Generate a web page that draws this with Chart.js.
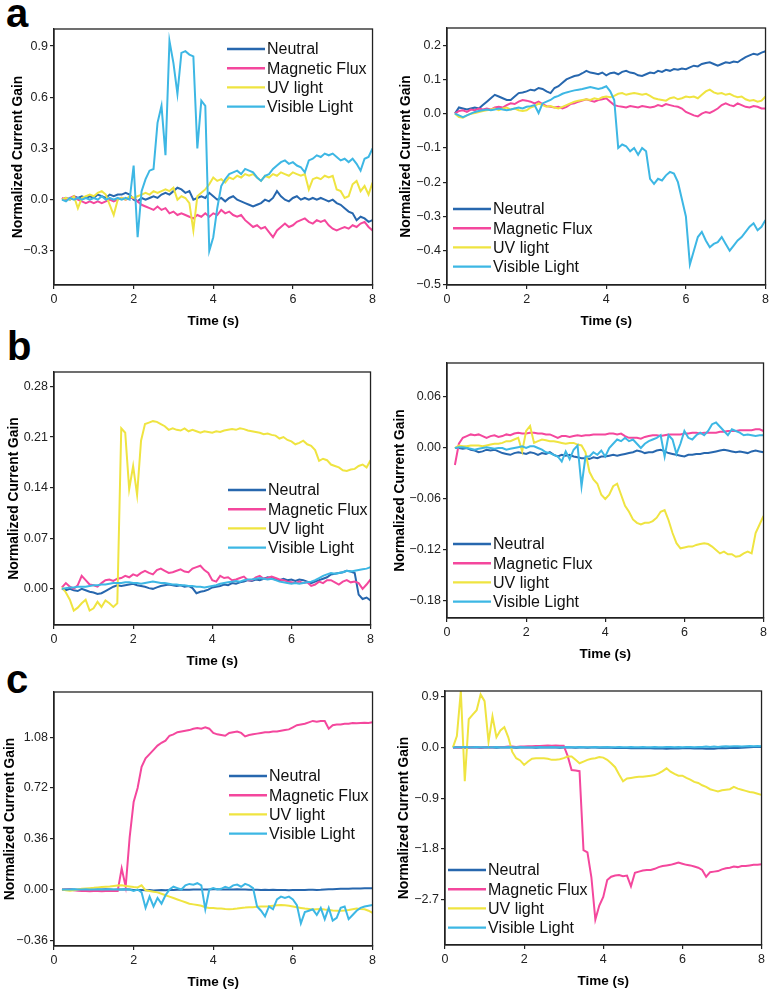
<!DOCTYPE html>
<html>
<head>
<meta charset="utf-8">
<script src="https://cdn.jsdelivr.net/npm/chart.js@4.4.0/dist/chart.umd.min.js"></script>
<style>
html, body { margin: 0; padding: 0; background: #fff; overflow: hidden; }
body { width: 772px; height: 992px; position: relative; font-family: "Liberation Sans", Arial, sans-serif; }
canvas { position: absolute; }
.tag { position: absolute; font-size: 40px; font-weight: bold; line-height: 40px; color: #000; }
</style>
</head>
<body>
<div class="tag" style="left:6px;top:-7px">a</div>
<div class="tag" style="left:7px;top:326px">b</div>
<div class="tag" style="left:6px;top:659px">c</div>
<canvas id="a1"></canvas>
<canvas id="a2"></canvas>
<canvas id="b1"></canvas>
<canvas id="b2"></canvas>
<canvas id="c1"></canvas>
<canvas id="c2"></canvas>
<script>
//shared data//////////////////////////////////////////////////////////////////////////////
var seriesNames = ['Neutral', 'Magnetic Flux', 'UV light', 'Visible Light'];
var seriesColors = ['#2767ae', '#f4479d', '#efe441', '#3db7e4'];
var xTicks = [0, 2, 4, 6, 8];
var time = [
	0.2, 0.3, 0.4, 0.5, 0.6, 0.7, 0.8, 0.9, 1.0, 1.1,
	1.2, 1.3, 1.4, 1.5, 1.6, 1.7, 1.8, 1.9, 2.0, 2.1,
	2.2, 2.3, 2.4, 2.5, 2.6, 2.7, 2.8, 2.9, 3.0, 3.1,
	3.2, 3.3, 3.4, 3.5, 3.6, 3.7, 3.8, 3.9, 4.0, 4.1,
	4.2, 4.3, 4.4, 4.5, 4.6, 4.7, 4.8, 4.9, 5.0, 5.1,
	5.2, 5.3, 5.4, 5.5, 5.6, 5.7, 5.8, 5.9, 6.0, 6.1,
	6.2, 6.3, 6.4, 6.5, 6.6, 6.7, 6.8, 6.9, 7.0, 7.1,
	7.2, 7.3, 7.4, 7.5, 7.6, 7.7, 7.8, 7.9, 8.0
];

//panel a left
var a1YTicks = [-0.3, 0, 0.3, 0.6, 0.9];
var a1Neutral = [
	0.00, 0.01, 0.00, 0.02, 0.01, 0.02, 0.01, 0.02, 0.01, 0.03,
	0.02, 0.01, 0.03, 0.02, 0.03, 0.03, 0.04, 0.03, 0.00, -0.01,
	0.01, 0.00, 0.01, 0.02, 0.01, 0.03, 0.04, 0.03, 0.05, 0.07,
	0.06, 0.04, 0.05, 0.00, 0.01, 0.02, 0.01, 0.04, 0.02, 0.00,
	0.01, -0.01, 0.01, 0.02, 0.00, -0.01, -0.02, -0.03, -0.04, -0.03,
	-0.02, 0.00, -0.01, 0.01, 0.05, 0.02, 0.00, -0.01, 0.01, 0.02,
	0.00, 0.01, 0.00, 0.01, 0.00, 0.01, 0.00, -0.01, 0.00, -0.02,
	-0.03, -0.05, -0.07, -0.08, -0.12, -0.10, -0.11, -0.13, -0.12
];
var a1Magnetic = [
	0.01, 0.00, 0.01, 0.02, 0.00, -0.01, -0.02, -0.01, -0.02, -0.01,
	-0.02, -0.01, 0.00, -0.01, 0.00, 0.01, 0.00, 0.01, 0.01, -0.01,
	-0.03, -0.04, -0.05, -0.06, -0.04, -0.06, -0.05, -0.08, -0.07, -0.09,
	-0.08, -0.09, -0.10, -0.11, -0.09, -0.10, -0.08, -0.10, -0.08, -0.09,
	-0.06, -0.08, -0.07, -0.09, -0.10, -0.09, -0.12, -0.14, -0.16, -0.15,
	-0.17, -0.16, -0.19, -0.22, -0.18, -0.16, -0.14, -0.16, -0.15, -0.13,
	-0.12, -0.11, -0.13, -0.14, -0.12, -0.13, -0.12, -0.15, -0.17, -0.18,
	-0.17, -0.16, -0.17, -0.15, -0.16, -0.14, -0.13, -0.16, -0.18
];
var a1Uv = [
	0.00, 0.01, 0.00, 0.02, -0.05, 0.01, 0.02, 0.03, 0.02, 0.04,
	0.05, 0.03, -0.03, -0.09, 0.00, 0.01, 0.00, 0.02, 0.01, 0.02,
	0.03, 0.04, 0.03, 0.05, 0.04, 0.05, 0.06, 0.05, 0.07, 0.00,
	0.02, 0.01, -0.02, -0.18, 0.02, 0.04, 0.06, 0.09, 0.13, 0.11,
	0.12, 0.10, 0.13, 0.12, 0.14, 0.13, 0.15, 0.14, 0.15, 0.13,
	0.11, 0.14, 0.13, 0.15, 0.14, 0.16, 0.15, 0.14, 0.16, 0.15,
	0.14, 0.15, 0.06, 0.12, 0.13, 0.12, 0.14, 0.13, 0.14, 0.06,
	0.05, 0.01, 0.02, 0.09, 0.11, 0.05, 0.08, 0.03, 0.10
];
var a1Visible = [
	0.00, -0.01, 0.01, 0.00, 0.01, 0.00, 0.01, 0.00, 0.01, 0.00,
	0.02, 0.00, 0.01, 0.00, 0.01, 0.00, 0.01, 0.00, 0.20, -0.22,
	0.05, 0.12, 0.17, 0.18, 0.45, 0.55, 0.26, 0.93, 0.80, 0.62,
	0.86, 0.87, 0.85, 0.84, 0.30, 0.58, 0.55, -0.30, -0.22, -0.05,
	0.08, 0.12, 0.15, 0.16, 0.17, 0.15, 0.18, 0.17, 0.16, 0.13,
	0.11, 0.14, 0.15, 0.18, 0.20, 0.22, 0.23, 0.21, 0.22, 0.20,
	0.19, 0.16, 0.23, 0.24, 0.26, 0.25, 0.27, 0.26, 0.27, 0.25,
	0.23, 0.24, 0.22, 0.24, 0.21, 0.17, 0.24, 0.25, 0.30
];

//panel a right
var a2YTicks = [-0.5, -0.4, -0.3, -0.2, -0.1, 0, 0.1, 0.2];
var a2Neutral = [
	0.000, 0.018, 0.015, 0.012, 0.015, 0.018, 0.015, 0.025, 0.035, 0.045,
	0.055, 0.050, 0.045, 0.040, 0.040, 0.050, 0.060, 0.062, 0.065, 0.070,
	0.068, 0.075, 0.072, 0.065, 0.060, 0.075, 0.080, 0.090, 0.100, 0.105,
	0.110, 0.112, 0.118, 0.125, 0.120, 0.118, 0.115, 0.120, 0.112, 0.118,
	0.120, 0.115, 0.122, 0.125, 0.120, 0.118, 0.112, 0.110, 0.115, 0.120,
	0.118, 0.125, 0.122, 0.128, 0.125, 0.130, 0.128, 0.132, 0.130, 0.135,
	0.140, 0.138, 0.145, 0.148, 0.150, 0.145, 0.140, 0.145, 0.150, 0.148,
	0.152, 0.150, 0.158, 0.165, 0.170, 0.175, 0.172, 0.178, 0.182
];
var a2Magnetic = [
	0.000, 0.008, 0.010, 0.005, 0.012, 0.010, 0.015, 0.012, 0.015, 0.012,
	0.018, 0.020, 0.018, 0.025, 0.030, 0.028, 0.035, 0.040, 0.038, 0.035,
	0.030, 0.035, 0.028, 0.022, 0.020, 0.018, 0.020, 0.015, 0.020, 0.028,
	0.030, 0.035, 0.038, 0.042, 0.038, 0.035, 0.040, 0.042, 0.045, 0.035,
	0.025, 0.022, 0.020, 0.018, 0.022, 0.020, 0.018, 0.022, 0.020, 0.018,
	0.020, 0.025, 0.022, 0.028, 0.025, 0.022, 0.020, 0.015, 0.005, 0.000,
	-0.005, -0.008, 0.000, 0.005, 0.002, 0.008, 0.015, 0.025, 0.030, 0.025,
	0.022, 0.030, 0.025, 0.020, 0.018, 0.022, 0.020, 0.015, 0.015
];
var a2Uv = [
	0.000, -0.010, -0.012, -0.005, 0.000, 0.002, 0.005, 0.008, 0.010, 0.012,
	0.015, 0.010, 0.015, 0.018, 0.012, 0.015, 0.010, 0.008, 0.010, 0.018,
	0.022, 0.030, 0.025, 0.020, 0.022, 0.018, 0.015, 0.020, 0.025, 0.030,
	0.035, 0.038, 0.040, 0.042, 0.040, 0.045, 0.042, 0.048, 0.050, 0.048,
	0.052, 0.058, 0.060, 0.055, 0.058, 0.060, 0.058, 0.055, 0.058, 0.052,
	0.045, 0.042, 0.040, 0.038, 0.045, 0.048, 0.042, 0.045, 0.050, 0.048,
	0.050, 0.045, 0.055, 0.065, 0.070, 0.062, 0.058, 0.060, 0.055, 0.058,
	0.052, 0.048, 0.050, 0.042, 0.038, 0.040, 0.035, 0.038, 0.050
];
var a2Visible = [
	0.000, -0.005, -0.010, -0.005, 0.000, 0.005, 0.008, 0.010, 0.012, 0.010,
	0.012, 0.015, 0.012, 0.010, 0.012, 0.015, 0.018, 0.015, 0.020, 0.022,
	0.025, 0.002, 0.030, 0.035, 0.040, 0.048, 0.052, 0.058, 0.062, 0.065,
	0.068, 0.070, 0.072, 0.075, 0.078, 0.075, 0.072, 0.075, 0.080, 0.065,
	0.040, -0.100, -0.090, -0.095, -0.110, -0.100, -0.120, -0.100, -0.110, -0.190,
	-0.205, -0.190, -0.195, -0.180, -0.170, -0.175, -0.200, -0.250, -0.300, -0.440,
	-0.400, -0.360, -0.345, -0.370, -0.390, -0.380, -0.375, -0.360, -0.380, -0.400,
	-0.385, -0.370, -0.360, -0.345, -0.330, -0.320, -0.340, -0.330, -0.310
];

//panel b left
var b1YTicks = [0, 0.07, 0.14, 0.21, 0.28];
var b1Neutral = [
	0.000, -0.002, 0.000, -0.002, -0.003, 0.000, -0.002, -0.004, -0.005, -0.007,
	-0.006, -0.003, 0.000, 0.003, 0.005, 0.004, 0.005, 0.006, 0.007, 0.005,
	0.004, 0.003, 0.001, 0.000, 0.002, 0.004, 0.005, 0.006, 0.005, 0.004,
	0.005, 0.003, 0.004, 0.001, -0.006, -0.004, -0.003, -0.001, 0.002, 0.003,
	0.004, 0.006, 0.005, 0.008, 0.007, 0.009, 0.010, 0.012, 0.011, 0.013,
	0.012, 0.014, 0.016, 0.015, 0.013, 0.012, 0.014, 0.012, 0.013, 0.011,
	0.013, 0.012, 0.010, 0.008, 0.010, 0.012, 0.014, 0.016, 0.020, 0.021,
	0.022, 0.023, 0.025, 0.024, 0.022, -0.008, -0.014, -0.012, -0.016
];
var b1Magnetic = [
	0.002, 0.008, 0.003, 0.000, 0.005, 0.018, 0.012, 0.006, 0.005, 0.003,
	0.008, 0.012, 0.013, 0.011, 0.014, 0.015, 0.018, 0.016, 0.020, 0.018,
	0.022, 0.025, 0.022, 0.020, 0.026, 0.028, 0.025, 0.022, 0.023, 0.025,
	0.027, 0.024, 0.023, 0.028, 0.030, 0.032, 0.026, 0.022, 0.012, 0.010,
	0.018, 0.015, 0.016, 0.012, 0.013, 0.015, 0.017, 0.012, 0.012, 0.016,
	0.018, 0.014, 0.015, 0.017, 0.015, 0.013, 0.012, 0.010, 0.009, 0.008,
	0.010, 0.008, 0.009, 0.004, 0.006, 0.010, 0.008, 0.012, 0.012, 0.009,
	0.006, 0.010, 0.012, 0.009, 0.010, 0.008, 0.000, 0.006, 0.013
];
var b1Uv = [
	0.002, -0.005, -0.015, -0.030, -0.026, -0.020, -0.015, -0.030, -0.027, -0.018,
	-0.025, -0.016, -0.020, -0.025, -0.020, 0.222, 0.216, 0.138, 0.170, 0.130,
	0.205, 0.228, 0.230, 0.232, 0.231, 0.228, 0.225, 0.220, 0.222, 0.220,
	0.219, 0.222, 0.218, 0.220, 0.218, 0.216, 0.218, 0.217, 0.216, 0.218,
	0.217, 0.219, 0.220, 0.221, 0.220, 0.222, 0.221, 0.219, 0.218, 0.217,
	0.216, 0.214, 0.215, 0.213, 0.212, 0.208, 0.210, 0.206, 0.204, 0.200,
	0.202, 0.205, 0.200, 0.198, 0.192, 0.177, 0.180, 0.178, 0.172, 0.170,
	0.168, 0.164, 0.163, 0.165, 0.166, 0.170, 0.172, 0.168, 0.178
];
var b1Visible = [
	0.000, 0.001, 0.002, 0.002, 0.003, 0.003, 0.003, 0.004, 0.005, 0.005,
	0.006, 0.006, 0.007, 0.008, 0.008, 0.008, 0.009, 0.009, 0.008, 0.008,
	0.007, 0.008, 0.009, 0.010, 0.009, 0.008, 0.008, 0.007, 0.006, 0.006,
	0.005, 0.005, 0.004, 0.004, 0.003, 0.003, 0.002, 0.003, 0.004, 0.005,
	0.007, 0.008, 0.009, 0.010, 0.011, 0.010, 0.012, 0.013, 0.013, 0.014,
	0.015, 0.014, 0.013, 0.014, 0.012, 0.010, 0.009, 0.008, 0.007, 0.008,
	0.007, 0.008, 0.009, 0.010, 0.012, 0.015, 0.018, 0.020, 0.022, 0.021,
	0.022, 0.023, 0.025, 0.024, 0.025, 0.026, 0.027, 0.028, 0.030
];

//panel b right
var b2YTicks = [-0.18, -0.12, -0.06, 0, 0.06];
var b2Neutral = [
	0.000, 0.000, -0.001, 0.000, -0.002, -0.003, -0.005, -0.004, -0.002, -0.003,
	-0.002, -0.004, -0.006, -0.007, -0.008, -0.006, -0.005, -0.006, -0.007, -0.005,
	-0.006, -0.008, -0.006, -0.007, -0.005, -0.008, -0.010, -0.008, -0.009, -0.008,
	-0.010, -0.011, -0.012, -0.012, -0.013, -0.011, -0.012, -0.010, -0.010, -0.009,
	-0.008, -0.009, -0.008, -0.007, -0.006, -0.005, -0.003, -0.004, -0.006, -0.005,
	-0.005, -0.003, -0.002, -0.004, -0.006, -0.007, -0.008, -0.009, -0.010, -0.008,
	-0.008, -0.007, -0.007, -0.006, -0.006, -0.005, -0.004, -0.003, -0.002, -0.003,
	-0.004, -0.005, -0.004, -0.005, -0.006, -0.004, -0.003, -0.004, -0.005
];
var b2Magnetic = [
	-0.020, 0.005, 0.012, 0.014, 0.016, 0.015, 0.016, 0.014, 0.012, 0.014,
	0.015, 0.013, 0.014, 0.016, 0.015, 0.017, 0.018, 0.017, 0.017, 0.018,
	0.018, 0.017, 0.017, 0.016, 0.016, 0.014, 0.012, 0.014, 0.014, 0.013,
	0.014, 0.015, 0.014, 0.015, 0.015, 0.016, 0.016, 0.016, 0.016, 0.017,
	0.017, 0.016, 0.017, 0.014, 0.012, 0.012, 0.012, 0.011, 0.013, 0.014,
	0.015, 0.015, 0.014, 0.015, 0.016, 0.016, 0.016, 0.016, 0.017, 0.017,
	0.018, 0.018, 0.017, 0.018, 0.018, 0.018, 0.018, 0.019, 0.019, 0.020,
	0.020, 0.020, 0.021, 0.021, 0.021, 0.021, 0.022, 0.022, 0.020
];
var b2Uv = [
	0.000, 0.003, 0.002, 0.002, 0.003, 0.003, 0.003, 0.002, 0.003, 0.004,
	0.005, 0.005, 0.006, 0.008, 0.008, 0.010, 0.012, -0.004, 0.020, 0.026,
	0.006, 0.008, 0.010, 0.009, 0.008, 0.008, 0.007, 0.006, 0.005, 0.006,
	0.006, 0.004, 0.003, -0.005, -0.028, -0.037, -0.042, -0.055, -0.060, -0.055,
	-0.045, -0.042, -0.055, -0.068, -0.075, -0.084, -0.088, -0.090, -0.088, -0.088,
	-0.086, -0.082, -0.075, -0.073, -0.085, -0.100, -0.112, -0.118, -0.117, -0.116,
	-0.116, -0.114, -0.113, -0.112, -0.113, -0.116, -0.120, -0.124, -0.122, -0.125,
	-0.125, -0.128, -0.127, -0.124, -0.122, -0.124, -0.100, -0.090, -0.080
];
var b2Visible = [
	0.000, 0.001, 0.001, 0.000, -0.001, -0.002, -0.001, 0.000, 0.001, 0.000,
	-0.001, 0.000, 0.000, -0.002, -0.001, 0.000, 0.001, 0.002, 0.000, 0.002,
	0.002, 0.000, -0.002, -0.005, -0.006, -0.008, -0.010, -0.016, -0.004, -0.013,
	-0.002, 0.003, -0.045, -0.010, -0.010, -0.005, -0.008, -0.003, -0.010, 0.000,
	0.005, 0.010, 0.008, 0.012, 0.008, 0.010, 0.005, 0.000, 0.005, 0.008,
	0.010, 0.012, 0.015, -0.010, 0.015, 0.010, -0.007, 0.005, 0.020, 0.012,
	0.010, 0.015, 0.018, 0.015, 0.020, 0.028, 0.030, 0.025, 0.020, 0.015,
	0.022, 0.020, 0.018, 0.015, 0.016, 0.015, 0.014, 0.015, 0.015
];

//panel c left
var c1YTicks = [-0.36, 0, 0.36, 0.72, 1.08];
var c1Neutral = [
	0.000, 0.000, 0.002, 0.000, -0.002, 0.000, 0.002, 0.000, -0.002, 0.000,
	0.000, 0.002, 0.000, -0.002, 0.000, 0.000, 0.002, 0.000, -0.003, -0.004,
	-0.004, -0.005, -0.004, -0.006, -0.005, -0.004, -0.005, -0.004, -0.003, -0.002,
	-0.002, -0.002, -0.001, 0.000, 0.000, 0.001, 0.000, 0.000, 0.002, 0.002,
	0.001, 0.000, 0.000, 0.001, 0.002, 0.001, 0.000, -0.001, -0.002, -0.002,
	-0.003, -0.002, -0.003, -0.002, -0.004, -0.003, -0.004, -0.005, -0.004, -0.003,
	-0.004, -0.003, -0.002, -0.002, -0.003, -0.002, 0.000, 0.002, 0.003, 0.004,
	0.005, 0.006, 0.006, 0.007, 0.008, 0.008, 0.009, 0.010, 0.010
];
var c1Magnetic = [
	0.000, 0.000, 0.000, -0.005, -0.008, -0.010, -0.010, -0.012, -0.010, -0.010,
	-0.012, -0.010, -0.010, -0.008, -0.010, 0.150, 0.020, 0.370, 0.620, 0.720,
	0.870, 0.930, 0.960, 0.990, 1.020, 1.040, 1.055, 1.090, 1.100, 1.115,
	1.120, 1.125, 1.130, 1.140, 1.145, 1.140, 1.150, 1.140, 1.110, 1.100,
	1.095, 1.090, 1.110, 1.115, 1.120, 1.110, 1.085, 1.095, 1.100, 1.105,
	1.110, 1.115, 1.115, 1.120, 1.120, 1.125, 1.130, 1.135, 1.150, 1.165,
	1.170, 1.175, 1.185, 1.195, 1.190, 1.195, 1.195, 1.140, 1.165, 1.170,
	1.170, 1.175, 1.175, 1.180, 1.178, 1.180, 1.182, 1.180, 1.185
];
var c1Uv = [
	0.000, -0.005, -0.008, -0.005, 0.000, 0.005, 0.008, 0.010, 0.012, 0.015,
	0.018, 0.020, 0.022, 0.025, 0.028, 0.030, 0.025, 0.022, 0.018, 0.015,
	0.030, -0.005, -0.010, -0.015, -0.020, -0.030, -0.040, -0.050, -0.060, -0.070,
	-0.080, -0.090, -0.100, -0.105, -0.110, -0.115, -0.125, -0.130, -0.130, -0.135,
	-0.135, -0.138, -0.140, -0.138, -0.135, -0.130, -0.128, -0.125, -0.125, -0.122,
	-0.120, -0.120, -0.118, -0.115, -0.112, -0.110, -0.112, -0.115, -0.120, -0.125,
	-0.130, -0.135, -0.138, -0.142, -0.140, -0.138, -0.142, -0.145, -0.148, -0.150,
	-0.150, -0.148, -0.145, -0.140, -0.135, -0.138, -0.140, -0.150, -0.166
];
var c1Visible = [
	0.000, 0.000, 0.000, 0.002, 0.000, 0.000, 0.002, 0.000, 0.000, 0.002,
	0.000, 0.000, 0.002, 0.000, 0.000, 0.000, 0.002, 0.000, -0.010, 0.000,
	-0.020, -0.130, -0.050, -0.120, -0.060, -0.100, -0.040, 0.000, 0.020, 0.010,
	0.000, 0.030, 0.040, 0.035, 0.045, 0.030, -0.140, 0.000, 0.010, 0.000,
	0.005, 0.020, 0.010, 0.030, 0.035, 0.020, 0.040, 0.030, 0.010, -0.120,
	-0.150, -0.190, -0.120, -0.140, -0.070, -0.050, -0.060, -0.050, -0.070, -0.110,
	-0.240, -0.160, -0.150, -0.140, -0.180, -0.130, -0.210, -0.130, -0.220, -0.200,
	-0.130, -0.120, -0.210, -0.180, -0.150, -0.130, -0.120, -0.115, -0.110
];

//panel c right
var c2YTicks = [-2.7, -1.8, -0.9, 0, 0.9];
var c2Neutral = [
	0.000, 0.005, 0.000, -0.005, 0.000, 0.005, 0.000, -0.005, 0.000, 0.005,
	0.000, -0.005, 0.000, 0.005, 0.000, 0.000, -0.005, 0.000, 0.005, 0.000,
	0.000, -0.005, 0.000, 0.000, 0.005, 0.000, 0.000, -0.005, 0.000, 0.000,
	0.000, -0.005, 0.000, 0.000, -0.005, 0.000, 0.000, -0.005, 0.000, -0.005,
	-0.005, -0.010, -0.005, -0.010, -0.010, -0.015, -0.010, -0.015, -0.010, -0.015,
	-0.015, -0.020, -0.015, -0.020, -0.025, -0.020, -0.015, -0.020, -0.015, -0.010,
	-0.015, -0.020, -0.015, -0.020, -0.025, -0.020, -0.025, -0.015, -0.010, -0.015,
	-0.010, -0.005, -0.010, -0.005, 0.000, 0.005, 0.010, 0.010, 0.010
];
var c2Magnetic = [
	0.000, 0.000, 0.005, 0.000, 0.000, 0.005, 0.005, 0.000, 0.005, 0.005,
	0.005, 0.010, 0.010, 0.010, 0.015, 0.015, 0.010, 0.015, 0.015, 0.020,
	0.020, 0.025, 0.025, 0.030, 0.035, 0.030, 0.035, 0.030, 0.030, -0.150,
	-0.400, -0.410, -0.420, -1.820, -1.860, -2.300, -3.050, -2.800, -2.650, -2.350,
	-2.290, -2.270, -2.260, -2.280, -2.270, -2.460, -2.220, -2.200, -2.180, -2.170,
	-2.170, -2.150, -2.120, -2.100, -2.090, -2.080, -2.060, -2.040, -2.060, -2.080,
	-2.090, -2.110, -2.130, -2.170, -2.290, -2.210, -2.200, -2.190, -2.160, -2.140,
	-2.130, -2.110, -2.120, -2.100, -2.100, -2.090, -2.080, -2.080, -2.070
];
var c2Uv = [
	0.000, 0.200, 1.000, -0.600, 0.500, 0.580, 0.660, 0.940, 0.820, 0.100,
	0.550, 0.180, 0.300, 0.360, 0.180, -0.080, -0.190, -0.230, -0.310, -0.250,
	-0.200, -0.190, -0.190, -0.190, -0.200, -0.220, -0.220, -0.210, -0.190, -0.160,
	-0.160, -0.220, -0.280, -0.250, -0.220, -0.200, -0.190, -0.170, -0.180, -0.220,
	-0.280, -0.350, -0.480, -0.600, -0.550, -0.540, -0.530, -0.520, -0.520, -0.510,
	-0.500, -0.490, -0.460, -0.420, -0.370, -0.430, -0.470, -0.500, -0.500, -0.540,
	-0.570, -0.610, -0.630, -0.670, -0.700, -0.740, -0.760, -0.780, -0.760, -0.750,
	-0.740, -0.700, -0.730, -0.750, -0.770, -0.790, -0.800, -0.820, -0.840
];
var c2Visible = [
	0.000, 0.005, 0.005, 0.010, 0.005, 0.005, 0.010, 0.005, 0.005, 0.005,
	0.005, 0.010, 0.005, 0.005, 0.010, 0.005, 0.005, 0.010, 0.005, 0.005,
	0.005, 0.005, 0.010, 0.005, 0.005, 0.010, 0.005, 0.005, 0.005, 0.010,
	0.005, 0.005, 0.010, 0.005, 0.005, 0.005, 0.010, 0.005, 0.005, 0.010,
	0.005, 0.005, 0.010, 0.005, 0.005, 0.010, 0.005, 0.005, 0.010, 0.005,
	0.005, 0.010, 0.005, 0.005, 0.010, 0.010, 0.005, 0.010, 0.005, 0.010,
	0.010, 0.005, 0.010, 0.010, 0.015, 0.010, 0.015, 0.010, 0.015, 0.020,
	0.015, 0.020, 0.020, 0.015, 0.020, 0.025, 0.020, 0.025, 0.020
];
//end data/////////////////////////////////////////////////////////////////////////////////

Chart.defaults.font.family = '"Liberation Sans", Arial, sans-serif';

//box around the plot area
var framePlugin = {
	id: 'frame',
	afterDraw: function (chart) {
		var a = chart.chartArea, ctx = chart.ctx;
		ctx.save();
		ctx.strokeStyle = '#222';
		ctx.lineWidth = 1.3;
		ctx.strokeRect(a.left, a.top, a.right - a.left, a.bottom - a.top);
		ctx.restore();
	}
};

//legend drawn inside the plot, where the original has it
var legendPlugin = {
	id: 'panelLegend',
	afterDraw: function (chart, args, opts) {
		var ctx = chart.ctx;
		ctx.save();
		ctx.font = '16px "Liberation Sans", Arial, sans-serif';
		ctx.textBaseline = 'middle';
		chart.data.datasets.forEach(function (ds, i) {
			var x = opts.x, y = opts.y + i * 19.2;
			ctx.strokeStyle = ds.borderColor;
			ctx.lineWidth = 2.4;
			ctx.beginPath();
			ctx.moveTo(x, y);
			ctx.lineTo(x + 38, y);
			ctx.stroke();
			ctx.fillStyle = '#111';
			ctx.fillText(ds.label, x + 40, y + 1);
		});
		ctx.restore();
	}
};

function drawPanel(id, series, yMin, yMax, yTicks, digits, box, titleX, legendAt) {
	var yw = box.l < 200 ? 54 : 56;
	var left = box.l - yw, top = box.t - 10;
	var cv = document.getElementById(id);
	cv.width = yw + (box.r - box.l) + 6;
	cv.height = 10 + (box.b - box.t) + 46;
	cv.style.left = left + 'px';
	cv.style.top = top + 'px';

	var tickFmt = function (v) { return v.toFixed(digits).replace('-', '\u2212'); };

	new Chart(cv, {
		type: 'line',
		data: {
			datasets: series.map(function (vals, i) {
				return {
					label: seriesNames[i],
					data: time.map(function (t, j) { return {x: t, y: vals[j]}; }),
					borderColor: seriesColors[i],
					borderWidth: 2,
					pointRadius: 0,
					tension: 0,
					order: 3 - i
				};
			})
		},
		options: {
			responsive: false,
			animation: false,
			devicePixelRatio: 1,
			layout: {padding: {top: 10, right: 6, left: 0, bottom: 0}},
			plugins: {
				legend: {display: false},
				tooltip: {enabled: false},
				panelLegend: {x: legendAt.x - left, y: legendAt.y - top}
			},
			scales: {
				x: {
					type: 'linear',
					min: 0,
					max: 8,
					afterBuildTicks: function (axis) { axis.ticks = xTicks.map(function (v) { return {value: v}; }); },
					afterFit: function (s) { s.height = 46; },
					grid: {drawOnChartArea: false, drawTicks: true, tickLength: 4, color: '#222', lineWidth: 1.2},
					border: {display: true, color: '#222', width: 1.3},
					ticks: {color: '#222', font: {size: 12.5}, padding: 3, maxRotation: 0},
					title: {display: true, text: 'Time (s)', color: '#000', font: {size: 13.5, weight: 'bold'}, padding: {top: 0, bottom: 2}}
				},
				y: {
					min: yMin,
					max: yMax,
					afterBuildTicks: function (axis) { axis.ticks = yTicks.map(function (v) { return {value: v}; }); },
					afterFit: function (s) { s.width = yw; },
					grid: {drawOnChartArea: false, drawTicks: true, tickLength: 4, color: '#222', lineWidth: 1.2},
					border: {display: true, color: '#222', width: 1.3},
					ticks: {color: '#222', font: {size: 12.5}, padding: 2, callback: tickFmt},
					title: {display: true, text: 'Normalized Current Gain', color: '#000', font: {size: 13.8, weight: 'bold'}, padding: {top: titleX - left - 8.3, bottom: 0}}
				}
			}
		},
		plugins: [framePlugin, legendPlugin]
	});
}

drawPanel('a1', [a1Neutral, a1Magnetic, a1Uv, a1Visible], -0.5, 1.0, a1YTicks, 1,
	{l: 54, t: 29, r: 373, b: 285}, 18, {x: 227, y: 49});
drawPanel('a2', [a2Neutral, a2Magnetic, a2Uv, a2Visible], -0.5, 0.25, a2YTicks, 1,
	{l: 447, t: 28, r: 766, b: 285}, 406, {x: 453, y: 209});
drawPanel('b1', [b1Neutral, b1Magnetic, b1Uv, b1Visible], -0.05, 0.30, b1YTicks, 2,
	{l: 54, t: 372, r: 371, b: 625}, 14, {x: 228, y: 490});
drawPanel('b2', [b2Neutral, b2Magnetic, b2Uv, b2Visible], -0.2, 0.1, b2YTicks, 2,
	{l: 447, t: 363, r: 764, b: 618}, 400, {x: 453, y: 544});
drawPanel('c1', [c1Neutral, c1Magnetic, c1Uv, c1Visible], -0.4, 1.4, c1YTicks, 2,
	{l: 54, t: 692, r: 373, b: 946}, 10, {x: 229, y: 776});
drawPanel('c2', [c2Neutral, c2Magnetic, c2Uv, c2Visible], -3.5, 1.0, c2YTicks, 1,
	{l: 445, t: 691, r: 762, b: 945}, 404, {x: 448, y: 870});
</script>
</body>
</html>
